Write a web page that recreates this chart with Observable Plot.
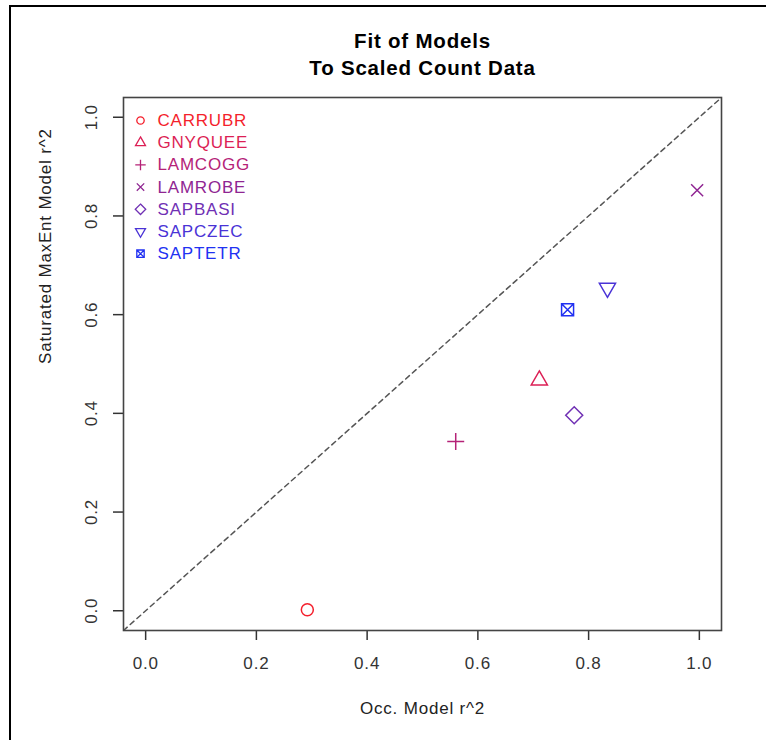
<!DOCTYPE html>
<html><head><meta charset="utf-8">
<script src="https://cdn.jsdelivr.net/npm/d3@7"></script>
<script src="https://cdn.jsdelivr.net/npm/@observablehq/plot@0.6"></script>
<style>
html,body{margin:0;padding:0;background:#fff;}
#wrap{position:relative;width:766px;height:740px;overflow:hidden;background:#fff;}
#bt{position:absolute;left:9px;top:5px;width:760px;height:2px;background:#000;}
#bl{position:absolute;left:9px;top:5px;width:2px;height:740px;background:#000;}
svg{display:block}
</style></head><body>
<div id="wrap"><div id="chart"></div><div id="bt"></div><div id="bl"></div></div>
<script>
// ---- data ----
const species = ["CARRUBR","GNYQUEE","LAMCOGG","LAMROBE","SAPBASI","SAPCZEC","SAPTETR"];
const occR2 = [0.292, 0.711, 0.560, 0.996, 0.774, 0.834, 0.762];
const maxentR2 = [0.002, 0.467, 0.343, 0.852, 0.396, 0.654, 0.610];
const speciesColors = ["#f41f2c","#dc1f55","#b52277","#8f2592","#7030b4","#4a33d6","#2131f2"];
const tickValues = [0, 0.2, 0.4, 0.6, 0.8, 1.0];
const titleLines = ["Fit of Models", "To Scaled Count Data"];
const xLabel = "Occ. Model r^2";
const yLabel = "Saturated MaxEnt Model r^2";
const axisLimits = [0, 1];

// R-style 4% axis extension
const ext = (axisLimits[1] - axisLimits[0]) * 0.04;
const lim = [axisLimits[0] - ext, axisLimits[1] + ext];

// ---- R pch symbols ----
const rad = s => Math.sqrt(s / Math.PI);
const TRC0 = 1.5551, TRC1 = 1.3468, TRC2 = 0.7776;
const pchSymbols = [
  {draw(c, s){ const r = rad(s); c.moveTo(r, 0); c.arc(0, 0, r, 0, 2 * Math.PI); }},
  {draw(c, s){ const k = rad(s); c.moveTo(0, -TRC0 * k); c.lineTo(TRC1 * k, TRC2 * k); c.lineTo(-TRC1 * k, TRC2 * k); c.closePath(); }},
  {draw(c, s){ const k = Math.SQRT2 * rad(s); c.moveTo(-k, 0); c.lineTo(k, 0); c.moveTo(0, -k); c.lineTo(0, k); }},
  {draw(c, s){ const k = rad(s); c.moveTo(-k, -k); c.lineTo(k, k); c.moveTo(-k, k); c.lineTo(k, -k); }},
  {draw(c, s){ const k = Math.SQRT2 * rad(s); c.moveTo(0, -k); c.lineTo(k, 0); c.lineTo(0, k); c.lineTo(-k, 0); c.closePath(); }},
  {draw(c, s){ const k = rad(s); c.moveTo(0, TRC0 * k); c.lineTo(TRC1 * k, -TRC2 * k); c.lineTo(-TRC1 * k, -TRC2 * k); c.closePath(); }},
  {draw(c, s){ const k = rad(s); c.moveTo(-k, -k); c.lineTo(k, -k); c.lineTo(k, k); c.lineTo(-k, k); c.closePath();
                c.moveTo(-k, -k); c.lineTo(k, k); c.moveTo(-k, k); c.lineTo(k, -k); }}
];

const points = species.map((s, i) => ({species: s, x: occR2[i], y: maxentR2[i]}));
const font = "'Liberation Sans', Arial, Helvetica, sans-serif";
const fmt = d3.format(".1f");

const legendMarks = species.flatMap((s, i) => [
  Plot.dot([s], {frameAnchor: "top-left", dx: 17, dy: 23 + 22.2 * i, symbol: d => d, stroke: d => d, fill: "none", r: 3.7, strokeWidth: 1.3}),
  Plot.text([s], {frameAnchor: "top-left", dx: 34, dy: 23 + 22.2 * i, text: d => d, fill: d => d, textAnchor: "start", lineAnchor: "middle", fontSize: 17})
]);

const titleMarks = titleLines.map((t, i) =>
  Plot.text([t], {frameAnchor: "top", dy: -56 + 27 * i, text: d => d, lineAnchor: "middle", fontWeight: "bold", fontSize: 20.5, fill: "#000"})
);

const chart = Plot.plot({
  width: 766, height: 740,
  marginLeft: 123, marginRight: 45, marginTop: 97, marginBottom: 110,
  style: {fontFamily: font, fontSize: "17px", background: "transparent", color: "#222", letterSpacing: "0.8px"},
  x: {domain: lim},
  y: {domain: lim},
  color: {domain: species, range: speciesColors},
  symbol: {domain: species, range: pchSymbols},
  marks: [
    Plot.line(lim.map(v => ({v})), {x: "v", y: "v", stroke: "#555", strokeWidth: 1.5, strokeDasharray: "5,4", clip: true}),
    Plot.axisX({ticks: tickValues, tickFormat: fmt, tickSize: 10, tickPadding: 16, label: null, color: "#333", strokeWidth: 1.5}),
    Plot.axisY({ticks: tickValues, tickFormat: fmt, tickSize: 10, tickPadding: 17, tickRotate: -90, label: null, color: "#333", strokeWidth: 1.5}),
    Plot.frame({stroke: "#444", strokeWidth: 1.6}),
    Plot.dot(points, {x: "x", y: "y", symbol: "species", stroke: "species", fill: "none", r: 6, strokeWidth: 1.5}),
    ...legendMarks,
    ...titleMarks,
    Plot.text([xLabel], {frameAnchor: "bottom", dy: 78, lineAnchor: "middle", text: d => d, fill: "#222"}),
    Plot.text([yLabel], {frameAnchor: "left", dx: -78, rotate: -90, lineAnchor: "middle", text: d => d, fill: "#222"})
  ]
});
document.getElementById("chart").appendChild(chart);
</script>
</body></html>
